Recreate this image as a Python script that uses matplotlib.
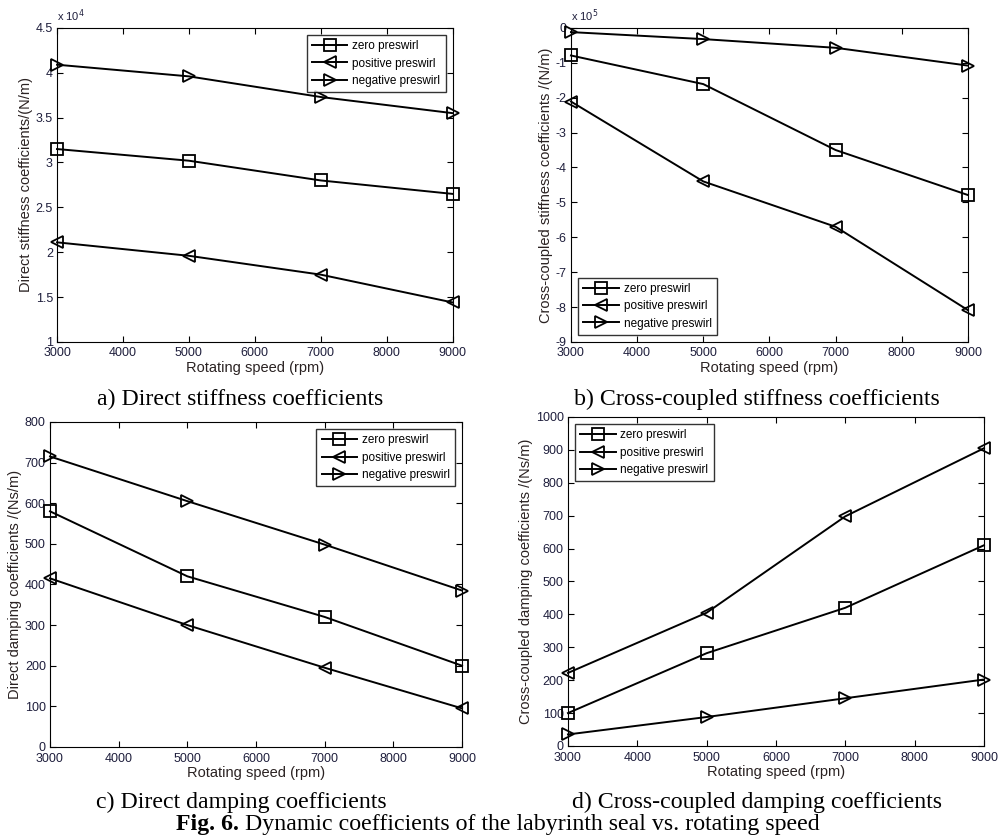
import matplotlib.pyplot as plt
import numpy as np

plt.rcParams['font.family'] = ['Liberation Sans', 'DejaVu Sans']

speed = [3000, 5000, 7000, 9000]
labels = ['zero preswirl', 'positive preswirl', 'negative preswirl']
markers = ['s', '<', '>']

# a) direct stiffness (N/m)
kxx_zero = [3.15e4, 3.02e4, 2.80e4, 2.65e4]
kxx_pos = [2.11e4, 1.96e4, 1.75e4, 1.44e4]
kxx_neg = [4.09e4, 3.96e4, 3.73e4, 3.55e4]
# b) cross-coupled stiffness (N/m)
kxy_zero = [-0.79e5, -1.61e5, -3.50e5, -4.79e5]
kxy_pos = [-2.11e5, -4.40e5, -5.70e5, -8.09e5]
kxy_neg = [-0.12e5, -0.32e5, -0.57e5, -1.08e5]
# c) direct damping (Ns/m)
cxx_zero = [580, 420, 320, 200]
cxx_pos = [415, 300, 195, 95]
cxx_neg = [715, 605, 498, 385]
# d) cross-coupled damping (Ns/m)
cxy_zero = [100, 282, 420, 610]
cxy_pos = [222, 405, 698, 905]
cxy_neg = [35, 88, 145, 202]

tick_col = '#1e1e3c'
lab_col = '#2a2222'

fig = plt.figure(figsize=(10.04, 8.36), dpi=100)

panels = [
    ([0.0568, 0.591, 0.394, 0.3756], [kxx_zero, kxx_pos, kxx_neg], (1e4, 4.5e4), np.arange(1e4, 4.6e4, 0.5e4),
     'Direct stiffness coefficients/(N/m)', 'upper right', 1e4),
    ([0.5687, 0.591, 0.3954, 0.3756], [kxy_zero, kxy_pos, kxy_neg], (-9e5, 0), np.arange(-9e5, 1e5, 1e5),
     'Cross-coupled stiffness coefficients /(N/m)', 'lower left', 1e5),
    ([0.0498, 0.1065, 0.4104, 0.3888], [cxx_zero, cxx_pos, cxx_neg], (0, 800), np.arange(0, 801, 100),
     'Direct damping coefficients /(Ns/m)', 'upper right', None),
    ([0.5657, 0.1077, 0.4143, 0.3935], [cxy_zero, cxy_pos, cxy_neg], (0, 1000), np.arange(0, 1001, 100),
     'Cross-coupled damping coefficients /(Ns/m)', 'upper left', None),
]

for rect, series, ylim, yticks, ylabel, loc, scale in panels:
    ax = fig.add_axes(rect)
    s = scale if scale else 1
    for vals, lab, m in zip(series, labels, markers):
        ax.plot(speed, np.array(vals) / s, color='black', lw=1.4, marker=m, ms=8,
                mfc='none', mec='black', mew=1.3, label=lab, clip_on=False, zorder=3)
    ax.set_ylim(ylim[0] / s, ylim[1] / s)
    ax.set_yticks(yticks / s)
    ax.set_yticklabels(['%g' % t for t in yticks / s])
    if scale:
        ax.text(0.0, 1.012, 'x 10$^{%d}$' % int(np.log10(scale)), transform=ax.transAxes,
                fontsize=8, ha='left', va='bottom', color=tick_col)
    ax.set_xlim(3000, 9000)
    ax.set_xticks(range(3000, 9001, 1000))
    ax.tick_params(direction='in', top=True, right=True, labelsize=9, length=4,
                   labelcolor=tick_col)
    ax.tick_params(axis='x', pad=4)
    ax.tick_params(axis='y', pad=3)
    ax.set_ylabel(ylabel, fontsize=10.5, labelpad=2, color=lab_col)
    ax.set_xlabel('Rotating speed (rpm)', fontsize=10.5, labelpad=1, color=lab_col)
    leg = ax.legend(loc=loc, fontsize=8.5, frameon=True, fancybox=False, edgecolor='black',
                    handlelength=3.0, handletextpad=0.4, borderpad=0.45, labelspacing=0.45,
                    borderaxespad=0.6)
    leg.get_frame().set_linewidth(1.0)

cap = dict(fontsize=17.2, family='Liberation Serif', va='baseline')
fig.text(240 / 1004, 1 - 405 / 836, 'a) Direct stiffness coefficients', ha='center', **cap)
fig.text(757 / 1004, 1 - 405 / 836, 'b) Cross-coupled stiffness coefficients', ha='center', **cap)
fig.text(241 / 1004, 1 - 808 / 836, 'c) Direct damping coefficients', ha='center', **cap)
fig.text(757 / 1004, 1 - 808 / 836, 'd) Cross-coupled damping coefficients', ha='center', **cap)

# figure caption: bold "Fig. 6." followed by regular text
renderer = fig.canvas.get_renderer()
t1 = fig.text(0, 1 - 830 / 836, 'Fig. 6.', fontweight='bold', ha='left', **cap)
t2 = fig.text(0, 1 - 830 / 836, ' Dynamic coefficients of the labyrinth seal vs. rotating speed', ha='left', **cap)
w1 = t1.get_window_extent(renderer).width
w2 = t2.get_window_extent(renderer).width
x0 = 498 - (w1 + w2) / 2
t1.set_x(x0 / 1004)
t2.set_x((x0 + w1) / 1004)

fig.savefig('out.png', dpi=100)
